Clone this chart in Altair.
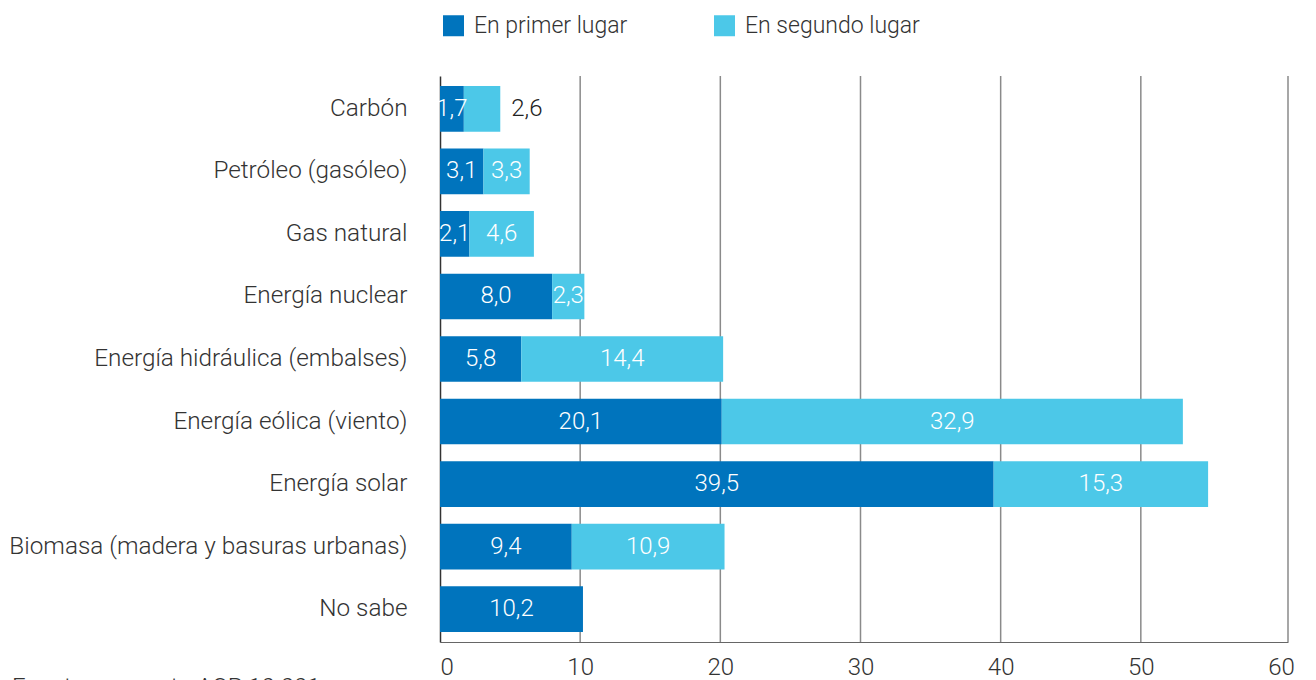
import altair as alt
import pandas as pd

categories = [
    "Carbón",
    "Petróleo (gasóleo)",
    "Gas natural",
    "Energía nuclear",
    "Energía hidráulica (embalses)",
    "Energía eólica (viento)",
    "Energía solar",
    "Biomasa (madera y basuras urbanas)",
    "No sabe",
]
first_place = [1.7, 3.1, 2.1, 8.0, 5.8, 20.1, 39.5, 9.4, 10.2]
second_place = [2.6, 3.3, 4.6, 2.3, 14.4, 32.9, 15.3, 10.9, None]
series_names = ["En primer lugar", "En segundo lugar"]
series_colors = ["#0074BD", "#4CC8E8"]
x_ticks = [0, 10, 20, 30, 40, 50, 60]
grid_values = [10, 20, 30, 40, 50]
x_max = 60.5
outside_labels = [("Carbón", "En segundo lugar")]
source_note = "Fuente: encuesta ACP 10.001"

rows = []
for i, cat in enumerate(categories):
    start = 0.0
    for k, (name, vals) in enumerate(zip(series_names, [first_place, second_place])):
        v = vals[i]
        if v is None:
            continue
        rows.append(
            dict(
                cat=cat,
                series=name,
                order=k,
                value=v,
                start=start,
                end=start + v,
                mid=start + v / 2,
                label=f"{v:.1f}".replace(".", ","),
                outside=(cat, name) in outside_labels,
            )
        )
        start += v
df = pd.DataFrame(rows)

W, H = 848, 566
FONT = "Roboto"

xscale = alt.Scale(domain=[0, x_max], nice=False, zero=True)
yscale = alt.Scale(domain=categories, paddingInner=0.27, paddingOuter=0.16)

x_axis = alt.Axis(
    values=x_ticks,
    grid=False,
    ticks=False,
    labelFlush=1,
    labelPadding=13,
    domainColor="#666666",
    domainWidth=1,
    format="d",
)

bars = (
    alt.Chart(df)
    .mark_bar()
    .encode(
        x=alt.X("start:Q", scale=xscale, title=None, axis=x_axis),
        x2="end:Q",
        y=alt.Y(
            "cat:N",
            scale=yscale,
            sort=categories,
            title=None,
            axis=alt.Axis(
                ticks=False,
                labelPadding=33,
                domainColor="#333333",
                domainWidth=1.5,
                labelLimit=600,
                labelFontSize=24.3,
            ),
        ),
        color=alt.Color(
            "series:N",
            scale=alt.Scale(domain=series_names, range=series_colors),
            legend=alt.Legend(
                title=None,
                orient="none",
                legendX=2,
                legendY=-62,
                direction="horizontal",
                symbolType="square",
                symbolSize=441,
                symbolStrokeWidth=0,
                labelFont=FONT,
                labelFontSize=23,
                labelFontWeight=300,
                labelColor="#333333",
                labelOffset=9,
                labelLimit=400,
                columnPadding=85,
            ),
        ),
        order=alt.Order("order:Q"),
    )
)

grid = (
    alt.Chart(pd.DataFrame({"g": grid_values + [x_max]}))
    .mark_rule(color="#8a8a8a", strokeWidth=1.5)
    .encode(x=alt.X("g:Q", scale=xscale, title=None, axis=x_axis))
)

labels_in = (
    alt.Chart(df)
    .transform_filter("!datum.outside")
    .mark_text(color="white", font=FONT, fontSize=24, fontWeight=300, baseline="middle")
    .encode(
        x=alt.X("mid:Q", scale=xscale),
        y=alt.Y("cat:N", scale=yscale, sort=categories),
        text="label:N",
    )
)

labels_out = (
    alt.Chart(df)
    .transform_filter("datum.outside")
    .mark_text(color="#222222", font=FONT, fontSize=24, fontWeight=300, baseline="middle", align="left", dx=11)
    .encode(
        x=alt.X("end:Q", scale=xscale),
        y=alt.Y("cat:N", scale=yscale, sort=categories),
        text="label:N",
    )
)

note = (
    alt.Chart(pd.DataFrame({"t": [source_note]}))
    .mark_text(align="left", baseline="alphabetic", font=FONT, fontSize=24, fontWeight=300, color="#333333")
    .encode(x=alt.value(-428), y=alt.value(619), text="t:N")
)

chart = (
    alt.layer(grid, bars, labels_in, labels_out, note)
    .properties(
        width=W,
        height=H,
        autosize=alt.AutoSizeParams(type="none"),
        padding={"left": 432, "top": 68, "right": 20, "bottom": 60},
    )
    .configure_view(stroke=None)
    .configure_axis(labelFont=FONT, labelFontSize=24, labelFontWeight=300, labelColor="#333333")
)

chart.save("out.html", embed_options={"renderer": "svg", "actions": False})
